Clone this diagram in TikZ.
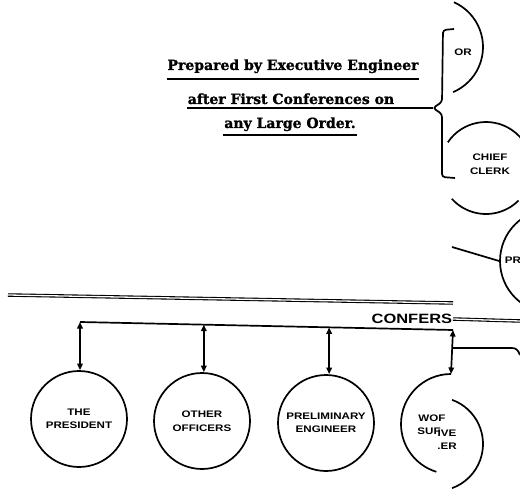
\documentclass[tikz,border=0pt]{standalone}
\usepackage{fontspec}
\setmainfont{DejaVu Serif}
\newfontfamily\notefont{DejaVu Serif}[BoldFeatures={FakeBold=1.2}]
\newfontfamily\tagfont{Liberation Sans}[FakeStretch=1.22]
\usetikzlibrary{arrows.meta}
\tikzset{
  office/.style = {shape=circle, draw, minimum size=96pt, inner sep=0pt,
                   align=center, font=\tagfont\bfseries\fontsize{9.5}{13.5}\selectfont},
  tag/.style    = {inner sep=0pt, align=center,
                   font=\tagfont\bfseries\fontsize{9.5}{13.5}\selectfont},
  note/.style   = {inner sep=0pt, font=\notefont\bfseries\fontsize{14}{16}\selectfont},
  link/.style   = {{Triangle[width=5.5pt,length=6.5pt]}-{Triangle[width=5.5pt,length=6.5pt]}},
  rail/.style   = {double, line width=1.1pt, double distance=1.3pt}
}

\begin{document}
\begin{tikzpicture}[x=1pt, y=-1pt, line width=1.7pt]
  \clip (0,0) rectangle (520,492);

  % the note and its brace
  \node [note, anchor=base] (note1) at (293,70)  {Prepared by Executive Engineer};
  \node [note, anchor=base] (note2) at (291,104) {after First Conferences on};
  \node [note, anchor=base] (note3) at (290,128) {any Large Order.};
  \coordinate (tip) at (433,108);
  \draw ([yshift=-9pt]note1.base west) -- ([yshift=-9pt]note1.base east);
  \draw ([yshift=-4pt]note2.base west) -- (tip);
  \draw ([yshift=-7pt]note3.base west) -- ([yshift=-7pt]note3.base east);
  \draw [rounded corners=3pt] (454,29) -- (443,30) -- (442,102) -- (tip)
        -- (442,114) -- (442,177) -- (455,178);

  % offices at the right
  \draw (434,47) ++(-66:49) arc[start angle=-66, end angle=67, radius=49];
  \node [tag] (or) at (463,52) {OR};
  \node [tag] (clerk) at (490,164) {CHIEF\\CLERK};
  \draw (486,168) ++(214:46) arc[start angle=214, end angle=330, radius=46];
  \draw (486,168) ++(138:46) arc[start angle=138, end angle=45, radius=46];
  \node [office, minimum size=104pt] (pr) at (552,261) {};
  \node [tag, anchor=west] (prtag) at (504,260) {PR};
  \coordinate (prfree) at (452,247);
  \draw (prfree) -- (pr.west);

  % conference rails
  \draw [rail] (8,295) -- (453,303);
  \node [tag, font=\tagfont\bfseries\fontsize{13.5}{15}\selectfont, anchor=east]
        (confers) at (453,319) {CONFERS};
  \draw [rail] (confers.east) -- (520,321);

  % bar over the conferees
  \draw (80,322) coordinate (b1) -- coordinate[pos=0.332] (b2)
        coordinate[pos=0.668] (b3) (453,330) coordinate (b4);

  \node [office] (president) at (79,419)  {THE\\PRESIDENT};
  \node [office] (officers)  at (202,421) {OTHER\\OFFICERS};
  \node [office] (prelim)    at (326,423) {PRELIMINARY\\ENGINEER};
  \coordinate (worker) at (451,424);

  \draw [link] (b1) -- (b1 |- president.north);
  \draw [link] (b2) -- (b2 |- officers.north);
  \draw [link] (b3) -- (b3 |- prelim.north);
  \draw [link] (b4) -- ([yshift=50pt]worker);

  \coordinate (fork) at (453,348);
  \draw (fork) -- (512,348) .. controls (516,348) and (518,350) .. (520,355);

  % the torn circle
  \draw (worker) ++(270:50) arc[start angle=270, end angle=107, radius=50];
  \draw (436,444) ++(-70:47) arc[start angle=-70, end angle=70, radius=47];
  \node [tag] (wof) at (432,418) {WOF};
  \node [tag] (suf) at (429,431) {SUF};
  \node [tag] (ive) at (447,433) {IVE};
  \node [tag] (er)  at (447,446) {.ER};
\end{tikzpicture}
\end{document}
